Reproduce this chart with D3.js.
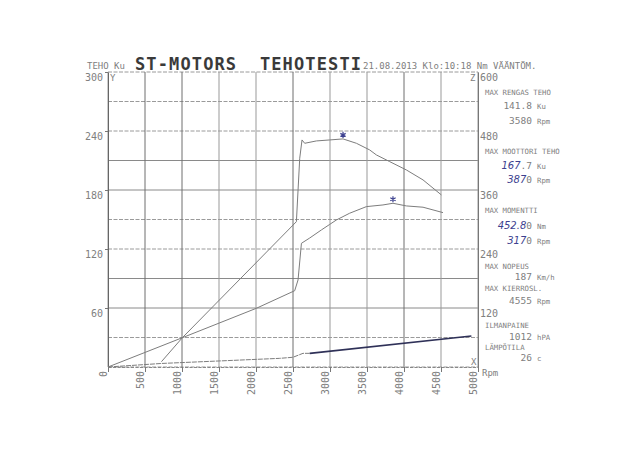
<!DOCTYPE html>
<html><head><meta charset="utf-8">
<script src="https://cdn.jsdelivr.net/npm/d3@7"></script>
<style>
body{margin:0;background:#fff}
svg{display:block}
text{font-family:"DejaVu Sans Mono","Liberation Mono",monospace}
</style>
</head><body>
<svg id="c" width="640" height="457"></svg>
<script>
// ---- data ----
const rpmTicks = [0,500,1000,1500,2000,2500,3000,3500,4000,4500,5000];
const leftTicks = [60,120,180,240,300];
const rightTicks = [120,240,360,480,600];
const gridY = [0,30,60,90,120,150,180,210,240,270,300];
const solidGridY = [60,90,180,210];

// engine power (Ku, left axis)
const powerRpm = [0,1005,2005,2523,2568,2614,2726,2884,2996,3086,3266,3492,3716,3851,4032,4257,4527];
const powerKu  = [0,29.8,59.7,77.6,88.5,125.8,131.2,139.4,145,149.5,156.4,163.1,164.8,166.5,163.8,162.5,157];

// torque (Nm, right axis)
const torqueRpm = [722,1005,2546,2591,2622,2658,2816,2996,3176,3357,3536,3627,3807,4032,4257,4505];
const torqueNm  = [10.8,59.6,295.6,424.6,461.8,455,459.8,461.8,463.9,455,441.5,431.3,417.7,400.8,380.5,350];

// lower trace (left axis scale)
const speedRpm = [0,722,2320,2500,2635,2726];
const speedVal = [0,3.6,8.8,9.9,13.9,13.9];
const speedHandRpm = [2726,4911];
const speedHandVal = [13.9,31.5];

// peak marks
const peakTorque = [3176,463.9];
const peakPower = [3851,166.5];

const infoHeads = ["MAX RENGAS TEHO","MAX MOOTTORI TEHO","MAX MOMENTTI","MAX NOPEUS","MAX KIERROSL.","ILMANPAINE","LÄMPÖTILA"];
// value lines: [handwritten part, printed part, unit]
const infoValues = [
  [["","141.8","Ku"],["","3580","Rpm"]],
  [["167",".7","Ku"],["387","0","Rpm"]],
  [["452.8","0","Nm"],["317","0","Rpm"]],
  [["","187","Km/h"]],
  [["","4555","Rpm"]],
  [["","1012","hPA"]],
  [["","26","c"]]
];

// ---- layout ----
const W=640,H=457;
const svg=d3.select("#c");
const x=d3.scaleLinear().domain([0,5000]).range([108,478]);
const y=d3.scaleLinear().domain([0,300]).range([367,72]);
const z=d3.scaleLinear().domain([0,600]).range([367,72]);
const txt="#808080", pen="#3d418f";
const mono='"DejaVu Sans Mono",monospace';

svg.append("rect").attr("width",W).attr("height",H).attr("fill","#fff");

// grid
const grid=svg.append("g");
grid.selectAll("line.h").data(gridY).join("line")
  .attr("x1",x(0)).attr("x2",x(5000)).attr("y1",d=>y(d)).attr("y2",d=>y(d))
  .attr("stroke",d=>solidGridY.includes(d)?"#8a8a8a":"#9a9a9a")
  .attr("stroke-width",1)
  .attr("stroke-dasharray",d=>solidGridY.includes(d)?null:"4,1.5");
grid.selectAll("line.v").data(rpmTicks).join("line")
  .attr("x1",d=>x(d)).attr("x2",d=>x(d)).attr("y1",y(300)).attr("y2",y(0))
  .attr("stroke",d=>[500,1000,2500,4000].includes(d)?"#6f6f6f":"#999")
  .attr("stroke-width",1);

// axes
const ax=svg.append("g").attr("transform",`translate(${x(0)},0)`)
  .call(d3.axisLeft(y).tickValues(leftTicks).tickSize(3).tickSizeOuter(0).tickPadding(2));
ax.select(".domain").attr("stroke","#666");
ax.selectAll(".tick line").attr("stroke","#777");
ax.selectAll("text").attr("fill",txt).attr("font-size",10).attr("dy","0.85em").style("font-family",mono);

const axR=svg.append("g").attr("transform",`translate(${x(5000)},0)`)
  .call(d3.axisRight(z).tickValues(rightTicks).tickSize(0).tickSizeOuter(0).tickPadding(2));
axR.select(".domain").attr("stroke","#777");
axR.selectAll("text").attr("fill",txt).attr("font-size",10).attr("dy","0.8em").style("font-family",mono);

const axB=svg.append("g").attr("transform",`translate(0,${y(0)})`)
  .call(d3.axisBottom(x).tickValues(rpmTicks).tickFormat(d3.format("d")).tickSize(5).tickSizeOuter(0));
axB.select(".domain").attr("stroke","#888").attr("stroke-dasharray","3,1.5");
axB.selectAll(".tick line").attr("stroke","#777");
axB.selectAll("text").attr("fill",txt).attr("font-size",10)
  .attr("transform","rotate(-90)").attr("text-anchor","end")
  .attr("x",-4).attr("y",-5).attr("dy","0.35em").style("font-family",mono);

// axis letters
svg.append("text").attr("x",x(0)+2).attr("y",y(300)+9).attr("font-size",9).attr("fill",txt).text("Y");
svg.append("text").attr("x",x(5000)-8).attr("y",y(300)+9).attr("font-size",9).attr("fill",txt).text("Z");
svg.append("text").attr("x",x(5000)-7).attr("y",y(0)-2).attr("font-size",9).attr("fill",txt).text("X");
svg.append("text").attr("x",x(5000)+4).attr("y",y(0)+9).attr("font-size",9).attr("fill",txt).text("Rpm");

// header
svg.append("text").attr("x",87).attr("y",69).attr("font-size",9).attr("fill",txt).text("TEHO Ku");
svg.append("text").attr("x",135).attr("y",70).attr("font-size",17).attr("font-weight","bold")
  .attr("fill","#3a3a3a").attr("textLength",226).attr("lengthAdjust","spacing")
  .style("white-space","pre").text("ST-MOTORS  TEHOTESTI");
svg.append("text").attr("x",363).attr("y",69).attr("font-size",9).attr("fill",txt)
  .text("21.08.2013 Klo:10:18 Nm VÄÄNTÖM.");

// curves
const line=(sy)=>d3.line().x(d=>x(d[0])).y(d=>sy(d[1]));
svg.append("path").datum(powerRpm.map((r,i)=>[r,powerKu[i]]))
  .attr("d",line(y)).attr("fill","none").attr("stroke","#7d7d7d").attr("stroke-width",1);
svg.append("path").datum(torqueRpm.map((r,i)=>[r,torqueNm[i]]))
  .attr("d",line(z)).attr("fill","none").attr("stroke","#7d7d7d").attr("stroke-width",1);
svg.append("path").datum(speedRpm.map((r,i)=>[r,speedVal[i]]))
  .attr("d",line(y)).attr("fill","none").attr("stroke","#7d7d7d").attr("stroke-width",1)
  .attr("stroke-dasharray","5,1");
svg.append("path").datum(speedHandRpm.map((r,i)=>[r,speedHandVal[i]]))
  .attr("d",line(y)).attr("fill","none").attr("stroke","#2f3158").attr("stroke-width",1.6);

// peak pen marks
const star=d3.symbol().type(d3.symbolAsterisk).size(26);
[[x(peakTorque[0]),z(peakTorque[1])],[x(peakPower[0]),y(peakPower[1])]].forEach(p=>{
  svg.append("path").attr("d",star()).attr("transform",`translate(${p[0]},${p[1]-4})`)
    .attr("stroke",pen).attr("stroke-width",1.2).attr("fill","none");
});

// info panel
const headY=[94.5,153.5,212.5,268.5,291,327.5,349.5];
const valY=[[109,124],[169,183],[228.5,243.5],[280],[303.5],[339.5],[361]];
const info=svg.append("g");
infoHeads.forEach((h,i)=>{
  info.append("text").attr("x",485).attr("y",headY[i]).attr("font-size",7.3).attr("fill",txt).text(h);
  infoValues[i].forEach((v,j)=>{
    const t=info.append("text").attr("x",532).attr("y",valY[i][j]).attr("text-anchor","end").attr("fill",txt).attr("font-size",9.5);
    if(v[0]) t.append("tspan").attr("fill",pen).attr("font-style","italic")
      .attr("font-size",10).style("font-family",'"DejaVu Sans",sans-serif').text(v[0]);
    t.append("tspan").text(v[1]);
    info.append("text").attr("x",537).attr("y",valY[i][j]).attr("font-size",7.3).attr("fill",txt).text(v[2]);
  });
});
</script>
</body></html>
